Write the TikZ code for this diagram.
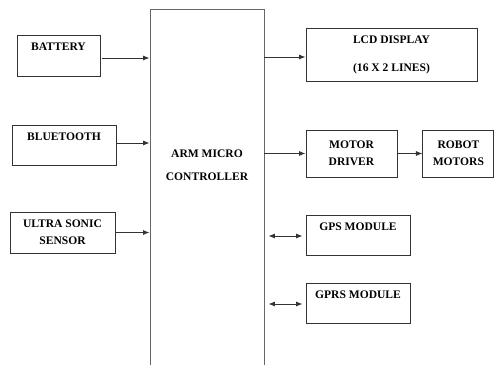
\documentclass[tikz,border=0pt]{standalone}
\usepackage{fontspec}
\setmainfont{Liberation Serif}
\usetikzlibrary{positioning,arrows.meta}
\definecolor{edge}{HTML}{333333}
\definecolor{mcuedge}{HTML}{666666}
\tikzset{
  blk/.style    = {rectangle, draw=edge, line width=0.9pt, inner sep=2pt, align=center,
                   font=\fontsize{11.6}{17}\selectfont\bfseries},
  txt/.style    = {inner sep=0pt, align=center, font=\fontsize{11.6}{17}\selectfont\bfseries},
  mcu/.style    = {rectangle, draw=mcuedge, line width=0.9pt, minimum width=114bp, minimum height=372bp},
  link/.style   = {-{Latex[length=6.5pt,width=5pt]}, line width=0.8pt, draw=edge},
  twoway/.style = {{Latex[length=6.5pt,width=5pt]}-{Latex[length=6.5pt,width=5pt]}, line width=0.8pt, draw=edge},
}

\begin{document}
\begin{tikzpicture}[x=1bp, y=-1bp]
  \clip (0,0) rectangle (494,364);
  % controller in the middle, runs off the bottom
  \node[mcu] (ctrl) at (207,195) {};
  \node[txt] (ctrltxt) at (207,165.5) {ARM MICRO\\[6pt]CONTROLLER};
  % inputs
  \node[blk, minimum width=83bp, minimum height=41bp] (bat) at (58.5,55.5) {BATTERY\\ \mbox{}};
  \node[blk, minimum width=104bp, minimum height=40bp] (bt) at (64,145) {BLUETOOTH\\ \mbox{}};
  \node[blk, minimum width=105bp, minimum height=41bp] (sonic) at (62.5,232.5) {ULTRA SONIC\\SENSOR};
  % outputs
  \node[blk, minimum width=171bp, minimum height=53bp] (lcd) at (391.5,54.5) {LCD DISPLAY\\[11pt](16 X 2 LINES)};
  \node[blk, minimum width=91bp, minimum height=47bp] (drv) at (351.5,153.5) {MOTOR\\DRIVER};
  \node[blk, minimum width=71bp, minimum height=47bp, right=25bp of drv] (mot) {ROBOT\\MOTORS};
  \node[blk, minimum width=104bp, minimum height=40bp] (gps) at (358,235) {GPS MODULE\\ \mbox{}};
  \node[blk, minimum width=104bp, minimum height=40bp] (gprs) at (358,303) {GPRS MODULE\\ \mbox{}};
  \draw[link, shorten <=2bp] ([yshift=-2.5bp]bat.east) -- ([yshift=-2.5bp]bat.east -| ctrl.west);
  \draw[link] ([yshift=2bp]bt.east) -- ([yshift=2bp]bt.east -| ctrl.west);
  \draw[link] (sonic.east) -- (sonic.east -| ctrl.west);
  \draw[link] ([yshift=-2.5bp]lcd.west -| ctrl.east) -- ([yshift=-2.5bp]lcd.west);
  \draw[link] (drv.west -| ctrl.east) -- (drv.west);
  \draw[link, shorten <=1bp] (drv) -- (mot);
  \draw[twoway, shorten <=4bp, shorten >=3bp] ([yshift=-1bp]gps.west -| ctrl.east) -- ([yshift=-1bp]gps.west);
  \draw[twoway, shorten <=4bp, shorten >=3bp] ([yshift=-1bp]gprs.west -| ctrl.east) -- ([yshift=-1bp]gprs.west);
\end{tikzpicture}
\end{document}
